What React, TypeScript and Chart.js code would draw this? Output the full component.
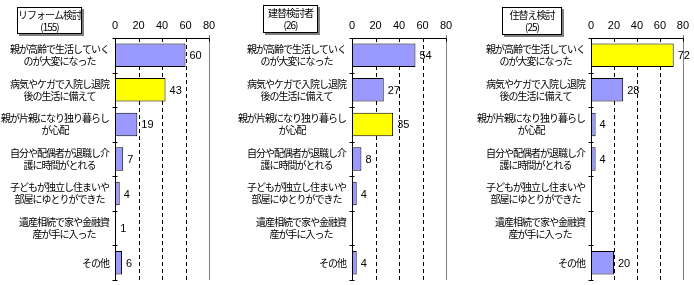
import React, { useEffect, useRef } from 'react';
import { Chart, registerables } from 'chart.js';

Chart.register(...registerables);

// ---- data ----
const categories: string[][] = [
  ['親が高齢で生活していく', 'のが大変になった'],
  ['病気やケガで入院し退院', '後の生活に備えて'],
  ['親が片親になり独り暮らし', 'が心配'],
  ['自分や配偶者が退職し介', '護に時間がとれる'],
  ['子どもが独立し住まいや', '部屋にゆとりができた'],
  ['遺産相続で家や金融資', '産が手に入った'],
  ['その他'],
];
const xTickValues = [0, 20, 40, 60, 80];
const reformValues: (number | null)[] = [60, 43, 19, 7, 4, 1, 6];
const rebuildValues: (number | null)[] = [54, 27, 35, 8, 4, null, 4];
const relocateValues: (number | null)[] = [72, 28, 4, 4, null, null, 20];
const reformTitle = ['リフォーム検討', '(155)'];
const rebuildTitle = ['建替検討者', '(26)'];
const relocateTitle = ['住替え検討', '(25)'];
const reformHighlight = 1;
const rebuildHighlight = 2;
const relocateHighlight = 0;

// ---- styles ----
const BAR = '#9999FF';
const HILITE = '#FFFF00';
const LABEL_FONT = '10px "Noto Sans CJK JP", "Noto Sans", sans-serif';
const NUM_FONT = '11px "Liberation Sans", Arial, sans-serif';
const H = 285;
const PLOT_TOP = 38;
const PLOT_BOTTOM = 280;

type Layout = { left: number; width: number; axisLeft: number; axisRight: number; box: { x: number; y: number; w: number; h: number } };

const decor = {
  id: 'decor',
  beforeDatasetsDraw(chart: any, _args: any, opts: any) {
    const { ctx, chartArea: a, scales } = chart;
    const x = scales.x;
    ctx.save();
    ctx.lineWidth = 1;
    ctx.strokeStyle = '#000';
    ctx.setLineDash([4, 3]);
    for (const v of opts.ticks.slice(1, -1)) {
      const px = Math.round(x.getPixelForValue(v)) + 0.5;
      ctx.beginPath();
      ctx.moveTo(px, a.top);
      ctx.lineTo(px, a.bottom);
      ctx.stroke();
    }
    ctx.setLineDash([]);
    ctx.strokeStyle = '#808080';
    const pr = Math.round(x.getPixelForValue(opts.ticks[opts.ticks.length - 1])) + 0.5;
    ctx.beginPath();
    ctx.moveTo(pr, a.top - 3);
    ctx.lineTo(pr, a.bottom);
    ctx.stroke();
    ctx.restore();
  },
  afterDatasetsDraw(chart: any, _args: any, opts: any) {
    const { ctx, chartArea: a, scales } = chart;
    const x = scales.x;
    const y = scales.y;
    const n = chart.data.labels.length;
    ctx.save();
    ctx.lineWidth = 1;
    ctx.strokeStyle = '#000';
    const x0 = Math.round(x.getPixelForValue(0)) + 0.5;
    const xEnd = Math.round(x.getPixelForValue(opts.ticks[opts.ticks.length - 1])) + 0.5;
    const top = Math.round(a.top) + 0.5;
    const bottom = Math.round(a.bottom) + 0.5;
    ctx.beginPath();
    ctx.moveTo(x0, top);
    ctx.lineTo(x0, bottom);
    ctx.stroke();
    ctx.beginPath();
    ctx.moveTo(x0, top);
    ctx.lineTo(xEnd, top);
    ctx.stroke();
    for (const v of opts.ticks.slice(1)) {
      const px = Math.round(x.getPixelForValue(v)) + 0.5;
      ctx.beginPath();
      ctx.moveTo(px, top);
      ctx.lineTo(px, top + 3);
      ctx.stroke();
    }
    const step = (a.bottom - a.top) / n;
    for (let i = 0; i <= n; i++) {
      const py = Math.round(a.top + step * i) + 0.5;
      ctx.beginPath();
      ctx.moveTo(x0 - 3, py);
      ctx.lineTo(x0 + 2, py);
      ctx.stroke();
    }
    // value labels
    ctx.fillStyle = '#000';
    ctx.font = NUM_FONT;
    ctx.textBaseline = 'middle';
    ctx.textAlign = 'left';
    const values = chart.data.datasets[0].data;
    const meta = chart.getDatasetMeta(0);
    meta.data.forEach((bar: any, i: number) => {
      const v = values[i];
      if (v == null) return;
      ctx.fillText(String(v), bar.x + 4, bar.y + 1);
    });
    // category labels (centered lines, right-aligned block)
    ctx.font = LABEL_FONT;
    (ctx as any).letterSpacing = '-1px';
    ctx.textAlign = 'center';
    const right = x0 - 6.5;
    chart.data.labels.forEach((lab: string[], i: number) => {
      const cy = y.getPixelForValue(i);
      const w = Math.max(...lab.map((s: string) => ctx.measureText(s).width));
      const cx = right - w / 2;
      const lh = 12;
      lab.forEach((s: string, k: number) => {
        ctx.fillText(s, cx, cy + (k - (lab.length - 1) / 2) * lh);
      });
    });
    // title box
    const b = opts.box;
    ctx.fillStyle = '#808080';
    ctx.fillRect(b.x + 2, b.y + 2, b.w, b.h);
    ctx.fillStyle = '#fff';
    ctx.fillRect(b.x, b.y, b.w, b.h);
    ctx.strokeStyle = '#000';
    ctx.strokeRect(b.x + 0.5, b.y + 0.5, b.w - 1, b.h - 1);
    ctx.fillStyle = '#000';
    ctx.font = LABEL_FONT;
    ctx.textAlign = 'center';
    opts.title.forEach((s: string, k: number) => {
      ctx.fillText(s, b.x + b.w / 2, b.y + 8.5 + k * 12);
    });
    ctx.restore();
  },
};

function Panel({ values, highlight, title, layout }: { values: (number | null)[]; highlight: number; title: string[]; layout: Layout }) {
  const ref = useRef<HTMLCanvasElement | null>(null);
  useEffect(() => {
    const canvas = ref.current!;
    const L = layout;
    const chart = new Chart(canvas, {
      type: 'bar',
      data: {
        labels: categories as any,
        datasets: [
          {
            data: values as any,
            backgroundColor: values.map((_, i) => (i === highlight ? HILITE : BAR)),
            borderColor: '#000',
            borderWidth: 1,
            borderSkipped: false,
            categoryPercentage: 1,
            barPercentage: 0.68,
          },
        ],
      },
      options: {
        indexAxis: 'y',
        animation: false,
        responsive: false,
        maintainAspectRatio: false,
        events: [],
        layout: { padding: { left: 0, top: 0, right: L.width - (L.axisRight - L.left), bottom: H - PLOT_BOTTOM } },
        plugins: {
          legend: { display: false },
          tooltip: { enabled: false },
          decor: {
            ticks: xTickValues,
            title,
            box: { x: L.box.x - L.left, y: L.box.y, w: L.box.w, h: L.box.h },
          },
        } as any,
        scales: {
          x: {
            position: 'top',
            min: xTickValues[0],
            max: xTickValues[xTickValues.length - 1],
            afterBuildTicks: (s: any) => {
              s.ticks = xTickValues.map((v) => ({ value: v }));
            },
            afterFit: (s: any) => {
              s.height = PLOT_TOP;
            },
            grid: { display: false, drawTicks: false },
            border: { display: false },
            ticks: { color: '#000', font: { family: '"Liberation Sans", Arial, sans-serif', size: 11 }, padding: 5, maxRotation: 0, autoSkip: false },
          },
          y: {
            afterFit: (s: any) => {
              s.width = L.axisLeft - L.left;
            },
            grid: { display: false, drawTicks: false },
            border: { display: false },
            ticks: { display: false },
          },
        },
      },
      plugins: [decor as any],
    });
    return () => chart.destroy();
  }, []);
  return (
    <canvas
      ref={ref}
      width={layout.width}
      height={H}
      style={{ position: 'absolute', left: layout.left, top: 0, width: layout.width, height: H }}
    />
  );
}

const layouts: Layout[] = [
  { left: 0, width: 230, axisLeft: 115, axisRight: 209, box: { x: 17, y: 7, w: 65, h: 27 } },
  { left: 230, width: 230, axisLeft: 352, axisRight: 446, box: { x: 263, y: 5, w: 55, h: 28 } },
  { left: 460, width: 234, axisLeft: 591, axisRight: 687, box: { x: 502, y: 7, w: 60, h: 28 } },
];

export default function App() {
  return (
    <div style={{ position: 'fixed', left: 0, top: 0, width: 694, height: H, background: '#fff', overflow: 'hidden' }}>
      <Panel values={reformValues} highlight={reformHighlight} title={reformTitle} layout={layouts[0]} />
      <Panel values={rebuildValues} highlight={rebuildHighlight} title={rebuildTitle} layout={layouts[1]} />
      <Panel values={relocateValues} highlight={relocateHighlight} title={relocateTitle} layout={layouts[2]} />
    </div>
  );
}
